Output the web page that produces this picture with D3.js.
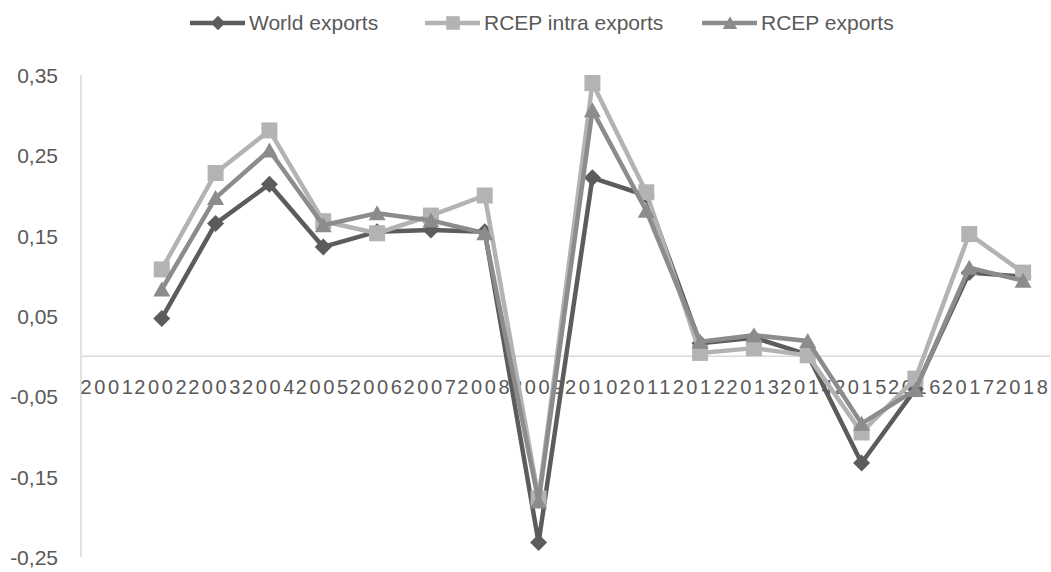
<!DOCTYPE html>
<html>
<head>
<meta charset="utf-8">
<script src="https://cdn.jsdelivr.net/npm/d3@7"></script>
<style>
  html, body { margin: 0; padding: 0; background: #ffffff; }
  svg { display: block; font-family: "Liberation Sans", Arial, sans-serif; }
</style>
</head>
<body>
<svg id="chart" width="1051" height="572"></svg>
<script>
// Annual export growth rates, 2001–2018
const years = ["2001","2002","2003","2004","2005","2006","2007","2008","2009","2010","2011","2012","2013","2014","2015","2016","2017","2018"];
const seriesNames = ["World exports", "RCEP intra exports", "RCEP exports"];
const worldExports = [null, 0.047, 0.165, 0.214, 0.136, 0.155, 0.157, 0.155, -0.232, 0.222, 0.200, 0.016, 0.023, 0.002, -0.133, -0.041, 0.104, 0.099];
const rcepIntraExports = [null, 0.108, 0.228, 0.281, 0.168, 0.153, 0.175, 0.200, -0.177, 0.340, 0.204, 0.004, 0.010, 0.001, -0.095, -0.028, 0.152, 0.104];
const rcepExports = [null, 0.083, 0.197, 0.256, 0.163, 0.178, 0.169, 0.153, -0.181, 0.306, 0.181, 0.018, 0.026, 0.019, -0.084, -0.042, 0.110, 0.094];
const yTickValues = [-0.25, -0.15, -0.05, 0.05, 0.15, 0.25, 0.35];
const yTickLabels = ["-0,25", "-0,15", "-0,05", "0,05", "0,15", "0,25", "0,35"];

const svg = d3.select("#chart");
const textColor = "#595959";
const axisColor = "#d9d9d9";

const plot = { left: 81, right: 1050, top: 75, bottom: 557 };

const x = d3.scaleBand().domain(years).range([plot.left, plot.right]).padding(0);
const y = d3.scaleLinear().domain([-0.25, 0.35]).range([plot.bottom, plot.top]);

// Y axis: vertical rule plus labels
svg.append("line")
  .attr("x1", plot.left).attr("x2", plot.left)
  .attr("y1", y(0.35)).attr("y2", y(-0.25))
  .attr("stroke", axisColor).attr("stroke-width", 1.5);

const yAxis = d3.axisLeft(y).tickValues(yTickValues)
  .tickFormat((d, i) => yTickLabels[i]).tickSize(0).tickPadding(0);
const gy = svg.append("g").attr("transform", `translate(58,0)`).call(yAxis);
gy.select(".domain").remove();
gy.selectAll("text")
  .attr("fill", textColor).attr("font-size", 21)
  .attr("font-family", "'Liberation Sans', Arial, sans-serif")
  .attr("dy", "0.35em");

// X axis on the zero line
svg.append("line")
  .attr("x1", plot.left).attr("x2", plot.right)
  .attr("y1", y(0)).attr("y2", y(0))
  .attr("stroke", axisColor).attr("stroke-width", 1.5);

const xAxis = d3.axisBottom(x).tickSize(0).tickPadding(0);
const gx = svg.append("g").attr("transform", `translate(0,${y(0)})`).call(xAxis);
gx.select(".domain").remove();
gx.selectAll("text")
  .attr("fill", textColor).attr("font-size", 20)
  .attr("font-family", "'Liberation Sans', Arial, sans-serif")
  .attr("letter-spacing", "2.6px")
  .attr("dy", 0).attr("y", 38);

// Series
const series = [
  { name: seriesNames[0], values: worldExports, color: "#5c5c5c", marker: "diamond" },
  { name: seriesNames[1], values: rcepIntraExports, color: "#b3b3b3", marker: "square" },
  { name: seriesNames[2], values: rcepExports, color: "#8c8c8c", marker: "triangle" }
];

function markerPath(type) {
  if (type === "diamond") return "M0,-8.5L8.5,0L0,8.5L-8.5,0Z";
  if (type === "square") return "M-8,-8H8V8H-8Z";
  return "M0,-8L8.5,7H-8.5Z";
}

const line = d3.line()
  .defined(d => d.v !== null)
  .x(d => x(d.year) + x.bandwidth() / 2)
  .y(d => y(d.v));

series.forEach(s => {
  const pts = years.map((yr, i) => ({ year: yr, v: s.values[i] }));
  const g = svg.append("g");
  g.append("path")
    .datum(pts)
    .attr("d", line)
    .attr("fill", "none")
    .attr("stroke", s.color)
    .attr("stroke-width", 4.5)
    .attr("stroke-linejoin", "round");
  g.selectAll("path.mk")
    .data(pts.filter(d => d.v !== null))
    .join("path")
    .attr("class", "mk")
    .attr("d", markerPath(s.marker))
    .attr("transform", d => `translate(${x(d.year) + x.bandwidth() / 2},${y(d.v)})`)
    .attr("fill", s.color);
});

// Legend
const legendX = [190, 425, 702];
const legendY = 23;
series.forEach((s, i) => {
  const g = svg.append("g").attr("transform", `translate(${legendX[i]},${legendY})`);
  g.append("line").attr("x1", 0).attr("x2", 55).attr("y1", 0).attr("y2", 0)
    .attr("stroke", s.color).attr("stroke-width", 4.5);
  g.append("path").attr("d", markerPath(s.marker))
    .attr("transform", "translate(28,0) scale(0.85)")
    .attr("fill", s.color);
  g.append("text").attr("x", 59).attr("y", 0).attr("dy", "0.35em")
    .attr("font-size", 21).attr("fill", textColor)
    .text(s.name);
});
</script>
</body>
</html>
